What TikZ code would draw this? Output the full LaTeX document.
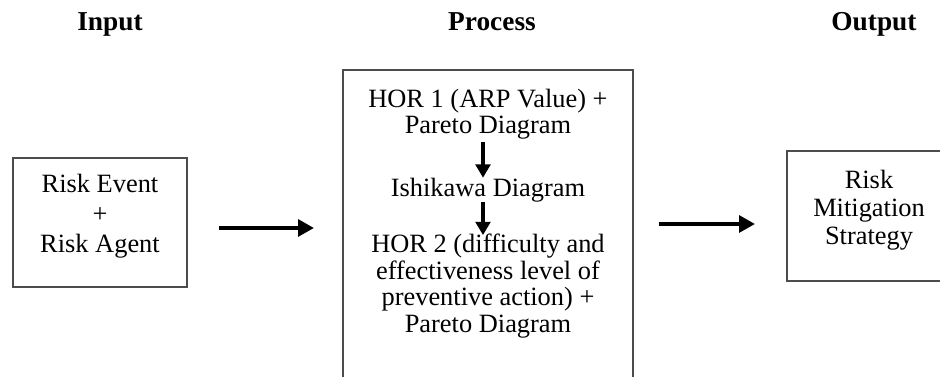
\documentclass[tikz,border=0pt]{standalone}
\usepackage{fontspec}
\setmainfont{Liberation Serif}
\usetikzlibrary{positioning,arrows.meta}

\begin{document}
\begin{tikzpicture}[x=0.75pt,y=-0.75pt,
	box/.style={draw=black!70,line width=1.2pt,inner sep=0pt},
	txt/.style={font=\fontsize{19.8}{19.9}\selectfont,align=center,inner sep=1pt},
	head/.style={font=\fontsize{20.5}{22}\selectfont\bfseries,anchor=base},
	bigarrow/.style={line width=3.4pt,-{Triangle[length=12pt,width=12.5pt]}},
	downarrow/.style={line width=3pt,-{Triangle[length=10pt,width=11pt]}}]

	\useasboundingbox (0,0) rectangle (940,377);
	\clip (0,0) rectangle (940,377);

	% headings
	\node[head] (hin) at (110,31) {Input};
	\node[head] (hproc) at (492,31) {Process};
	\node[head] (hout) at (874,31) {Output};

	% boxes
	\node[box,minimum width=130.5pt,minimum height=96.75pt] (in) at (100,222.5) {};
	\node[box,minimum width=217.5pt,minimum height=247.5pt] (proc) at (488,235) {};
	\node[box,minimum width=123pt,minimum height=97.5pt] (out) at (869,216) {};

	% texts
	\node[txt,font=\fontsize{19.8}{22.5}\selectfont] (intxt) at (100,216) {Risk Event\\+\\Risk Agent};
	\node[txt,font=\fontsize{19.8}{21}\selectfont] (outtxt) at (869,210) {Risk\\Mitigation\\Strategy};
	\node[txt] (hor1) at (488,114) {HOR 1 (ARP Value) +\\Pareto Diagram};
	\node[txt] (ishi) at (488,190) {Ishikawa Diagram};
	\node[txt] (hor2) at (488,286) {HOR 2 (difficulty and\\effectiveness level of\\preventive action) +\\Pareto Diagram};

	% arrows
	\coordinate (a1s) at (219,228);
	\coordinate (a1e) at (314,228);
	\coordinate (a2s) at (659,224);
	\coordinate (a2e) at (755,224);
	\draw[bigarrow] (a1s) -- (a1e);
	\draw[bigarrow] (a2s) -- (a2e);
	\draw[downarrow,shorten <=1pt,shorten >=-1pt] ([xshift=-3.75pt]hor1.south) -- ([xshift=-3.75pt]ishi.north);
	\draw[downarrow,shorten <=-1pt,shorten >=-2pt] ([xshift=-3.75pt]ishi.south) -- ([xshift=-3.75pt]hor2.north);

\end{tikzpicture}
\end{document}
